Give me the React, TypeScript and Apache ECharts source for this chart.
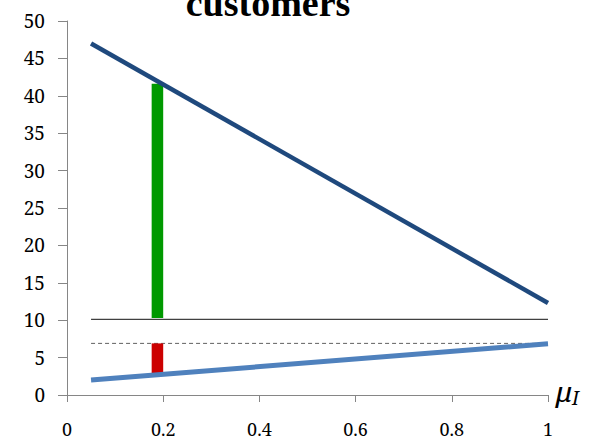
import React, { useEffect, useRef } from "react";
import * as echarts from "echarts";

const xTicks = { min: 0, max: 1, interval: 0.2 };
const yTicks = { min: 0, max: 50, interval: 5 };
const upperLine = [
  [0.05, 47],
  [1, 12.3],
];
const lowerLine = [
  [0.05, 2],
  [1, 6.85],
];
const solidLevel = [
  [0.05, 10.1],
  [1, 10.1],
];
const dashedLevel = [
  [0.05, 6.9],
  [1, 6.9],
];
// [xStart, xEnd, yStart, yEnd]
const greenBar = [[0.176, 0.2, 10.3, 41.6]];
const redBar = [[0.176, 0.2, 2.9, 6.9]];
const titleText = "customers";

const FONT = "Noto Serif";
const TITLE_FONT = "Liberation Serif";

function rectSeries(name: string, data: number[][], color: string) {
  return {
    name,
    type: "custom",
    data,
    encode: { x: [0, 1], y: [2, 3] },
    renderItem: (params: any, api: any) => {
      const p0 = api.coord([api.value(0), api.value(3)]);
      const p1 = api.coord([api.value(1), api.value(2)]);
      return {
        type: "rect",
        shape: { x: p0[0], y: p0[1], width: p1[0] - p0[0], height: p1[1] - p0[1] },
        style: { fill: color },
      };
    },
    z: 3,
  };
}

export default function App() {
  const ref = useRef<HTMLDivElement>(null);
  useEffect(() => {
    if (!ref.current) return;
    const chart = echarts.init(ref.current, undefined, { renderer: "svg" });
    const axisColor = "#868686";
    chart.setOption({
      animation: false,
      backgroundColor: "#ffffff",
      textStyle: { fontFamily: FONT },
      grid: { left: 67, right: 46, top: 21, bottom: 47, outerBoundsMode: "none" },
      xAxis: {
        type: "value",
        min: xTicks.min,
        max: xTicks.max,
        interval: xTicks.interval,
        axisLine: { show: true, onZero: false, lineStyle: { color: axisColor, width: 1 } },
        axisTick: { show: true, length: 7, lineStyle: { color: axisColor } },
        splitLine: { show: false },
        axisLabel: { color: "#000", fontFamily: FONT, fontSize: 18, lineHeight: 18, margin: 25 },
      },
      yAxis: {
        type: "value",
        min: yTicks.min,
        max: yTicks.max,
        interval: yTicks.interval,
        axisLine: { show: true, lineStyle: { color: axisColor, width: 1 } },
        axisTick: { show: true, length: 9, lineStyle: { color: axisColor } },
        splitLine: { show: false },
        axisLabel: { color: "#000", fontFamily: FONT, fontSize: 19, margin: 22 },
      },
      series: [
        {
          type: "line",
          data: solidLevel,
          symbol: "none",
          lineStyle: { color: "#404040", width: 1.2 },
          z: 2,
        },
        {
          type: "line",
          data: dashedLevel,
          symbol: "none",
          lineStyle: { color: "#606060", width: 1, type: [4, 3] },
          z: 2,
        },
        rectSeries("green", greenBar, "#009900"),
        rectSeries("red", redBar, "#cc0000"),
        {
          type: "line",
          data: upperLine,
          symbol: "none",
          lineStyle: { color: "#1f497d", width: 4.5, cap: "butt" },
          z: 4,
        },
        {
          type: "line",
          data: lowerLine,
          symbol: "none",
          lineStyle: { color: "#4f81bd", width: 5, cap: "butt" },
          z: 4,
        },
      ],
      graphic: [
        {
          type: "text",
          x: 268,
          y: 22,
          style: {
            text: titleText,
            fill: "#000",
            font: `bold 38px ${TITLE_FONT}`,
            textAlign: "center",
            textVerticalAlign: "bottom",
          },
        },
        {
          type: "text",
          x: 556,
          y: 391,
          style: {
            text: "μ",
            fill: "#000",
            font: `italic 28px ${FONT}`,
            textAlign: "left",
            textVerticalAlign: "middle",
          },
        },
        {
          type: "text",
          x: 572,
          y: 398,
          style: {
            text: "I",
            fill: "#000",
            font: `italic 19px ${FONT}`,
            textAlign: "left",
            textVerticalAlign: "middle",
          },
        },
      ],
    });
    return () => chart.dispose();
  }, []);
  return (
    <div
      ref={ref}
      style={{ position: "fixed", left: 0, top: 0, width: 594, height: 442 }}
    />
  );
}
